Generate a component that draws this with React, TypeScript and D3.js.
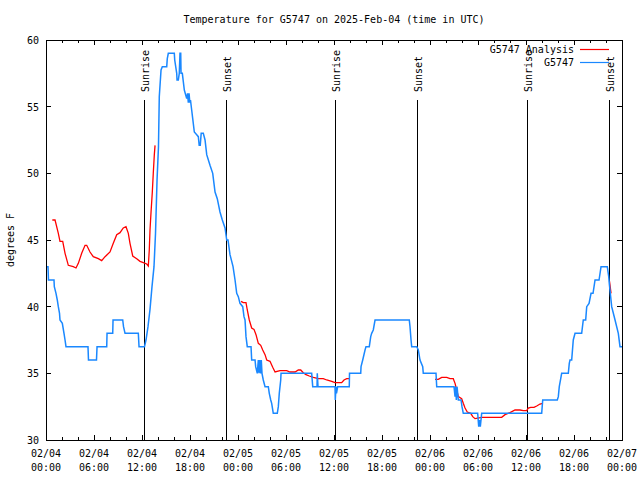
import React from "react";
import * as d3 from "d3";

const TITLE = "Temperature for G5747 on 2025-Feb-04 (time in UTC)";
const Y_LABEL = "degrees F";
const START = Date.UTC(2025, 1, 4, 0, 0);
const END = Date.UTC(2025, 1, 7, 0, 0);
const Y_TICKS = [30, 35, 40, 45, 50, 55, 60];
const LEGEND_LABELS = ["G5747 Analysis", "G5747"];

// Observations (hours since 2025-02-04 00:00 UTC, deg F)
const obsHours = [
  0, 0.25, 0.31, 1.0, 1.04, 1.25, 1.41, 1.54, 1.69, 1.75, 2.04, 2.25, 2.38, 2.5,
  5.25, 5.31, 6.31, 6.38, 7.59, 7.63, 8.34, 8.38, 9.59, 9.69, 9.88, 11.54, 11.63,
  12.31, 12.5, 12.75, 13.0, 13.25, 13.5, 13.69, 13.88, 14.06, 14.16, 14.38, 14.54,
  15.09, 15.16, 15.29, 16.04, 16.09, 16.34, 16.38, 16.54, 16.66, 16.75, 16.84,
  16.88, 17.04, 17.16, 17.29, 17.59, 17.69, 17.79, 17.88, 17.98, 18.06, 18.21,
  18.34, 18.54, 18.84, 19.04, 19.15, 19.28, 19.4, 19.66, 19.88, 20.09, 20.5, 20.84,
  21.13, 21.41, 21.75, 22.04, 22.38, 22.59, 22.75, 23.0, 23.38, 23.63, 23.84,
  24.04, 24.25, 24.59, 24.75, 24.88, 25.0, 25.16, 25.63, 25.71, 26.13, 26.21,
  26.41, 26.54, 26.63, 26.71, 26.84, 26.91, 27.0, 27.16, 27.38, 27.79, 27.91,
  28.09, 28.21, 28.41, 28.91, 29.04, 29.16, 29.34, 29.38, 33.21, 33.34, 33.88,
  33.91, 34.0, 36.13, 36.16, 36.25, 36.31, 36.46, 37.91, 37.94, 39.34, 39.38,
  39.59, 39.88, 40.0, 40.41, 40.59, 40.71, 40.91, 41.13, 45.41, 45.5, 45.63,
  45.71, 46.34, 46.54, 46.75, 47.09, 47.16, 48.75, 48.84, 51.0, 51.13, 51.21,
  51.29, 51.38, 51.54, 51.88, 52.0, 52.16, 53.96, 54.09, 54.19, 54.29, 54.46,
  61.96, 62.09, 63.91, 64.04, 64.16, 64.34, 64.46, 65.29, 65.41, 65.5, 65.71,
  65.91, 66.13, 66.96, 67.16, 67.46, 67.59, 67.88, 68.13, 68.38, 68.63, 69.13,
  69.38, 70.16, 70.34, 70.41, 70.71, 71.13, 71.54, 71.75, 72,
];
const obsTemps = [
  43, 43, 42, 42, 41.5, 41, 40.5, 40, 39.5, 39, 38.75, 38, 37.5, 37,
  37, 36, 36, 37, 37, 38, 38, 39, 39, 38.5, 38, 38, 37,
  37, 37.5, 38.5, 39.8, 41.5, 43, 45.5, 49.5, 52, 55.75, 57.75, 58,
  58, 58.6, 59, 59, 58.5, 57.5, 57, 57, 57.5, 59, 59,
  57.5, 57.5, 56.9, 56.25, 55.6, 56, 55.3, 56, 55.3, 55.5, 54.75,
  54.1, 53.1, 52.9, 52.75, 52.1, 52.1, 53, 53, 52.5, 51.4, 50.6, 50,
  48.6, 48.1, 47.1, 46.5, 45.9, 45, 45, 43.9, 43, 42, 41,
  40.75, 40.25, 40, 39.25, 39, 37.75, 37, 37, 36, 36, 35.5,
  35, 36, 35, 36, 35, 36, 35, 34.5, 34, 34, 33.5,
  33, 32.75, 32, 32, 32.5, 33.5, 34.5, 35, 35, 34, 34,
  35, 34, 34, 33, 34, 33.5, 34, 34, 35, 35, 35.5,
  36, 36.75, 37, 37, 37.75, 38, 38.25, 39, 39, 38.5, 37.5,
  37, 37, 36.75, 36, 35.5, 35, 35, 34, 34, 33.25, 34,
  33, 34, 33, 33, 32.5, 32, 32, 31, 31.5, 31, 32,
  32, 33, 33, 33.25, 34, 34.6, 35, 35, 35.75, 36, 36,
  37.5, 38, 38, 39, 39, 40, 40.25, 41, 41, 42, 42,
  43, 43, 42.25, 41.75, 40, 39, 38, 37, 37,
];

// Analysis (NaN marks a gap)
const anaHours = [
  0.79, 1.13, 1.54, 1.75, 2.09, 2.38, 2.79, 3.41, 3.75, 4.04, 4.46, 4.88, 5.09,
  5.5, 5.91, 6.54, 6.96, 7.38, 8.0, 8.41, 8.84, 9.25, 9.66, 10.0, 10.29, 10.5,
  10.84, 11.34, 11.75, 12.16, 12.59, 12.79, 12.91, 13.0, 13.13, 13.29, 13.41,
  13.54, 13.63, 18.0,
  24.38, 24.66, 25.0, 25.16, 25.41, 25.71, 26.0, 26.25, 26.54, 26.84, 27.09,
  27.38, 27.59, 28.0, 28.34, 28.63, 29.25, 30.09, 30.5, 31.13, 31.54, 31.84,
  32.16, 32.5, 32.91, 33.41, 34.04, 34.66, 35.09, 35.71, 36.13, 36.96, 37.25,
  37.59, 37.91, 42.0,
  48.63, 49.04, 49.46, 50.09, 50.5, 50.91, 51.13, 51.34, 51.54, 51.96, 52.16,
  52.38, 52.66, 53.09, 53.34, 53.63, 54.46, 56.96, 57.38, 58.0, 58.63, 59.25,
  59.66, 60.09, 60.29, 60.59, 61.0, 61.34, 61.75, 62.09, 66.0,
  70.44, 70.63,
];
const anaTemps = [
  46.5, 46.5, 45.5, 44.9, 44.9, 44, 43.1, 43, 42.9, 43.25, 44, 44.6, 44.6,
  44.1, 43.75, 43.6, 43.45, 43.75, 44.1, 44.75, 45.4, 45.55, 45.9, 46, 45.5, 44.75,
  43.8, 43.6, 43.4, 43.3, 43.2, 43.05, 44.25, 45.75, 47.1, 48.6, 50,
  51.4, 52.1, NaN,
  40.4, 40.3, 40.3, 39.75, 39, 38.4, 38.3, 37.9, 37.25, 37.1, 36.75,
  36.4, 36, 35.9, 35.45, 35.1, 35.2, 35.2, 35.1, 35.1, 35.25, 35.25,
  35.05, 34.9, 34.8, 34.7, 34.6, 34.6, 34.5, 34.4, 34.3, 34.3, 34.5,
  34.6, 34.6, NaN,
  34.55, 34.55, 34.7, 34.7, 34.6, 34.6, 34.25, 33.75, 33.25, 33.1, 32.75,
  32.4, 32.1, 32, 31.75, 31.6, 31.7, 31.7, 31.9, 32.05, 32.25, 32.25,
  32.2, 32.2, 32.4, 32.45, 32.45, 32.55, 32.7, 32.75, NaN,
  41.9, 41.0,
];

const sunriseHours = [12.31, 36.16, 60.16];
const sunsetHours = [22.46, 46.41, 70.41];

const W = 640;
const H = 480;
const L = 46;
const R = 622;
const T = 40;
const B = 440;
const FONT = "'DejaVu Sans Mono', monospace";
const OBS_COLOR = "#1a88ff";
const ANA_COLOR = "#ff0000";

const toDate = (h: number) => new Date(START + h * 3600e3);

export default function App() {
  const x = d3.scaleUtc().domain([new Date(START), new Date(END)]).range([L, R]);
  const y = d3.scaleLinear().domain([30, 60]).range([B, T]);

  const line = d3
    .line<[number, number]>()
    .defined((d) => !isNaN(d[1]))
    .x((d) => x(toDate(d[0])))
    .y((d) => y(d[1]));

  const obsData: [number, number][] = obsHours.map((h, i) => [h, obsTemps[i]]);
  const anaData: [number, number][] = anaHours.map((h, i) => [h, anaTemps[i]]);

  const minorTicks = x.ticks(d3.utcHour.every(2)!);
  const majorTicks = x.ticks(d3.utcHour.every(6)!);
  const fmtDate = d3.utcFormat("%m/%d");
  const fmtTime = d3.utcFormat("%H:%M");

  const events = [
    ...sunriseHours.map((h) => ({ h, label: "Sunrise" })),
    ...sunsetHours.map((h) => ({ h, label: "Sunset" })),
  ];

  return (
    <svg
      width={W}
      height={H}
      style={{ position: "absolute", left: 0, top: 0, background: "#fff" }}
      fontFamily={FONT}
      fontSize={10}
    >
      <rect x={0} y={0} width={W} height={H} fill="#fff" />
      <text x={(L + R) / 2} y={23} textAnchor="middle" fill="#000">
        {TITLE}
      </text>

      {/* y ticks */}
      {Y_TICKS.map((v) => (
        <g key={"y" + v}>
          <line x1={L} x2={L + 5} y1={y(v)} y2={y(v)} stroke="#000" shapeRendering="crispEdges" />
          <line x1={R} x2={R - 5} y1={y(v)} y2={y(v)} stroke="#000" shapeRendering="crispEdges" />
          <text x={39} y={y(v) + 4} textAnchor="end" fill="#000">
            {v}
          </text>
        </g>
      ))}

      {/* x ticks */}
      {minorTicks.map((d, i) => {
        const isMajor = d.getUTCHours() % 6 === 0;
        const len = isMajor ? 5 : 3;
        return (
          <g key={"xt" + i}>
            <line x1={x(d)} x2={x(d)} y1={B} y2={B - len} stroke="#000" shapeRendering="crispEdges" />
            <line x1={x(d)} x2={x(d)} y1={T} y2={T + len} stroke="#000" shapeRendering="crispEdges" />
          </g>
        );
      })}
      {majorTicks.map((d, i) => (
        <text key={"xl" + i} x={x(d)} textAnchor="middle" fill="#000">
          <tspan x={x(d)} y={457}>
            {fmtDate(d)}
          </tspan>
          <tspan x={x(d)} y={471}>
            {fmtTime(d)}
          </tspan>
        </text>
      ))}

      <text
        transform={`translate(14,${(T + B) / 2}) rotate(-90)`}
        textAnchor="middle"
        fill="#000"
      >
        {Y_LABEL}
      </text>

      {/* sunrise / sunset markers */}
      {events.map((e, i) => {
        const xe = Math.round(x(toDate(e.h))) + 0.5;
        return (
          <g key={"ev" + i}>
            <line x1={xe} x2={xe} y1={100} y2={B} stroke="#000" />
            <text
              transform={`translate(${xe + 4.5},92) rotate(-90)`}
              textAnchor="start"
              fill="#000"
            >
              {e.label}
            </text>
          </g>
        );
      })}

      {/* legend */}
      <text x={574} y={53} textAnchor="end" fill="#000">
        {LEGEND_LABELS[0]}
      </text>
      <line x1={580} x2={609} y1={49.5} y2={49.5} stroke={ANA_COLOR} strokeWidth={1.2} />
      <text x={574} y={66} textAnchor="end" fill="#000">
        {LEGEND_LABELS[1]}
      </text>
      <line x1={580} x2={609} y1={62.5} y2={62.5} stroke={OBS_COLOR} strokeWidth={1.2} />

      {/* data */}
      <path d={line(anaData) || ""} fill="none" stroke={ANA_COLOR} strokeWidth={1.3} />
      <path d={line(obsData) || ""} fill="none" stroke={OBS_COLOR} strokeWidth={1.5} />

      {/* frame */}
      <rect x={L + 0.5} y={T + 0.5} width={R - L} height={B - T} fill="none" stroke="#000" shapeRendering="crispEdges" />
    </svg>
  );
}
